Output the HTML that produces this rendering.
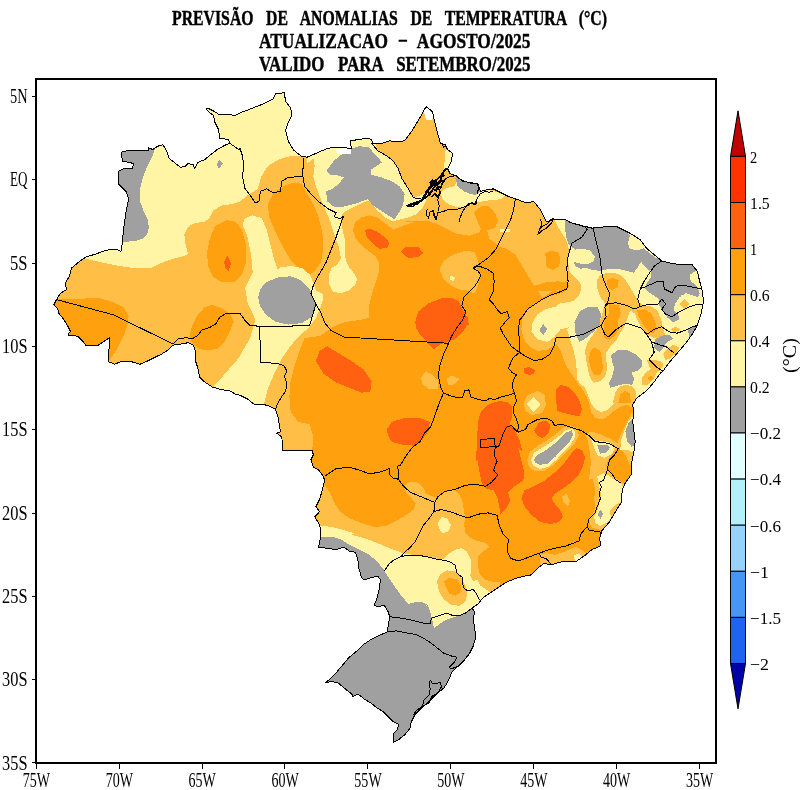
<!DOCTYPE html><html><head><meta charset="utf-8"><title>Previsao de anomalias de temperatura</title><style>
html,body{margin:0;padding:0;background:#fff}
#w{position:relative;width:800px;height:790px;overflow:hidden;background:#fff}
</style></head><body><div id="w">
<svg width="800" height="790" viewBox="0 0 800 790" style="position:absolute;left:0;top:0" shape-rendering="crispEdges">
<defs><clipPath id="br"><path d="M53.9,304.7 L56.5,299.6 L60.3,293.3 L66.6,289.5 L65.3,283.2 L69.1,276.8 L71.6,268.0 L79.2,261.6 L86.8,256.6 L95.7,254.1 L105.8,250.3 L115.9,249.0 L121.0,251.5 L122.3,242.7 L123.5,229.4 L126.1,211.6 L128.6,199.0 L126.1,191.4 L118.5,183.8 L118.5,171.1 L123.5,168.6 L132.4,168.6 L133.7,163.5 L122.3,161.0 L121.5,152.2 L126.1,150.9 L148.9,150.9 L148.9,147.8 L152.7,149.6 L157.7,146.3 L162.8,144.6 L166.6,150.9 L169.1,158.5 L174.2,162.3 L180.5,167.3 L185.6,166.1 L188.1,163.5 L193.2,164.8 L194.4,168.6 L198.2,162.3 L204.6,159.7 L212.2,153.4 L217.2,149.6 L224.8,145.3 L229.9,143.3 L228.6,139.5 L219.7,138.2 L218.5,129.4 L214.7,121.8 L213.4,115.4 L208.4,111.6 L205.8,109.1 L208.4,108.4 L214.7,111.6 L218.5,114.2 L227.3,114.2 L234.9,115.4 L240.0,112.9 L250.1,109.1 L262.8,104.1 L272.9,99.0 L275.4,93.9 L284.3,92.7 L285.6,101.5 L290.6,107.8 L291.9,115.4 L288.1,123.0 L285.6,130.6 L288.1,140.8 L293.2,149.6 L300.8,155.9 L307.1,157.2 L315.9,153.4 L327.3,148.4 L336.2,147.1 L345.1,147.8 L351.4,148.4 L350.1,140.8 L359.0,139.5 L366.6,138.2 L371.6,139.5 L372.9,143.3 L381.8,143.3 L389.4,140.8 L397.0,142.0 L404.6,140.8 L412.2,130.6 L419.7,118.0 L426.1,106.6 L432.4,111.6 L434.9,123.0 L440.0,142.0 L440.0,143.3 L445.1,144.6 L447.6,149.6 L452.7,153.4 L451.4,161.0 L447.6,168.6 L450.1,173.7 L456.5,176.2 L462.8,181.3 L478.0,183.8 L480.5,191.4 L485.6,190.1 L493.2,188.9 L500.8,192.7 L508.4,196.5 L515.9,199.0 L526.1,202.8 L533.7,201.5 L540.0,209.1 L543.8,216.7 L546.3,221.8 L555.2,219.2 L564.1,219.2 L571.6,223.0 L581.8,225.6 L591.9,228.1 L604.6,226.8 L617.2,226.8 L629.9,233.2 L640.0,239.5 L646.6,248.4 L654.2,254.7 L661.8,261.0 L671.9,263.5 L682.0,264.8 L692.2,264.8 L697.2,271.1 L699.7,281.3 L702.3,291.4 L703.5,301.5 L701.0,314.2 L697.2,325.6 L692.2,334.4 L684.6,344.6 L677.0,353.4 L669.4,362.3 L663.0,371.1 L660.5,373.0 L654.2,381.9 L647.8,389.5 L641.5,394.6 L636.5,398.4 L632.7,404.7 L633.9,413.5 L632.7,421.1 L633.9,431.3 L635.2,441.4 L633.9,451.5 L631.4,464.2 L631.4,474.3 L625.1,483.2 L622.3,490.1 L621.0,502.8 L614.7,512.9 L609.6,521.8 L602.0,530.6 L599.5,538.2 L600.8,545.8 L591.9,549.6 L584.3,555.9 L576.7,561.0 L566.6,561.0 L559.0,562.3 L551.4,564.8 L543.8,563.5 L538.7,567.3 L531.1,574.9 L523.5,576.2 L514.7,578.7 L505.8,582.5 L498.2,587.6 L490.6,592.7 L483.0,597.7 L478.0,604.1 L472.0,608.0 L474.6,611.8 L473.3,619.4 L474.6,628.2 L475.8,637.1 L473.3,645.9 L469.5,653.5 L464.4,659.9 L458.1,666.2 L451.8,672.5 L448.0,681.4 L444.2,687.7 L436.6,694.1 L429.0,701.6 L421.4,708.0 L415.1,714.3 L411.3,721.9 L410.0,728.2 L404.9,734.6 L398.6,739.6 L393.5,742.2 L393.5,733.3 L397.3,729.5 L398.6,724.4 L393.5,721.9 L388.5,716.8 L383.4,711.8 L377.1,708.0 L370.8,702.9 L364.4,699.1 L358.1,694.1 L353.0,696.6 L351.8,694.1 L345.4,689.0 L337.8,682.7 L331.5,681.4 L325.2,682.7 L329.0,680.1 L335.3,673.8 L341.6,666.2 L349.2,657.3 L356.8,651.0 L363.2,644.7 L370.8,639.6 L378.4,635.8 L387.2,632.0 L389.7,616.8 L388.1,611.6 L384.3,605.3 L378.0,606.6 L374.2,605.3 L376.7,599.0 L379.2,588.9 L380.5,580.0 L378.0,576.2 L371.6,577.5 L364.1,580.0 L361.5,577.5 L359.0,568.6 L357.7,558.5 L355.2,552.2 L348.9,550.9 L343.8,547.1 L336.2,549.6 L327.3,548.4 L318.5,547.1 L320.5,538.2 L321.0,529.4 L318.5,523.0 L314.7,516.7 L319.7,511.6 L315.9,506.6 L319.7,499.0 L322.3,490.1 L324.8,480.0 L322.3,474.9 L318.5,469.9 L313.4,467.3 L310.9,459.7 L313.4,454.7 L312.2,450.9 L298.2,450.9 L283.0,450.9 L281.8,437.0 L276.7,433.2 L280.5,431.9 L279.2,424.3 L278.0,416.7 L275.4,409.1 L270.4,406.6 L262.8,404.1 L253.9,404.1 L247.6,399.0 L240.0,395.2 L236.2,394.6 L229.9,390.8 L221.0,389.5 L212.2,387.0 L204.6,381.9 L199.5,376.8 L198.2,369.2 L195.7,361.6 L195.7,351.5 L193.2,345.2 L188.1,342.7 L181.8,343.9 L172.9,345.2 L167.8,350.3 L161.5,354.1 L153.9,357.8 L146.3,361.6 L140.0,364.2 L131.1,361.6 L121.0,361.6 L114.7,364.2 L108.4,361.6 L109.6,337.6 L105.8,340.1 L98.2,345.2 L85.6,345.2 L83.0,341.4 L78.0,336.3 L67.8,335.1 L70.4,331.3 L67.8,326.2 L64.1,319.9 L59.0,313.5 L57.7,308.5Z"/></clipPath></defs>
<rect width="800" height="790" fill="#fff"/>
<g clip-path="url(#br)"><path d="M53.9,304.7 L56.5,299.6 L60.3,293.3 L66.6,289.5 L65.3,283.2 L69.1,276.8 L71.6,268.0 L79.2,261.6 L86.8,256.6 L95.7,254.1 L105.8,250.3 L115.9,249.0 L121.0,251.5 L122.3,242.7 L123.5,229.4 L126.1,211.6 L128.6,199.0 L126.1,191.4 L118.5,183.8 L118.5,171.1 L123.5,168.6 L132.4,168.6 L133.7,163.5 L122.3,161.0 L121.5,152.2 L126.1,150.9 L148.9,150.9 L148.9,147.8 L152.7,149.6 L157.7,146.3 L162.8,144.6 L166.6,150.9 L169.1,158.5 L174.2,162.3 L180.5,167.3 L185.6,166.1 L188.1,163.5 L193.2,164.8 L194.4,168.6 L198.2,162.3 L204.6,159.7 L212.2,153.4 L217.2,149.6 L224.8,145.3 L229.9,143.3 L228.6,139.5 L219.7,138.2 L218.5,129.4 L214.7,121.8 L213.4,115.4 L208.4,111.6 L205.8,109.1 L208.4,108.4 L214.7,111.6 L218.5,114.2 L227.3,114.2 L234.9,115.4 L240.0,112.9 L250.1,109.1 L262.8,104.1 L272.9,99.0 L275.4,93.9 L284.3,92.7 L285.6,101.5 L290.6,107.8 L291.9,115.4 L288.1,123.0 L285.6,130.6 L288.1,140.8 L293.2,149.6 L300.8,155.9 L307.1,157.2 L315.9,153.4 L327.3,148.4 L336.2,147.1 L345.1,147.8 L351.4,148.4 L350.1,140.8 L359.0,139.5 L366.6,138.2 L371.6,139.5 L372.9,143.3 L381.8,143.3 L389.4,140.8 L397.0,142.0 L404.6,140.8 L412.2,130.6 L419.7,118.0 L426.1,106.6 L432.4,111.6 L434.9,123.0 L440.0,142.0 L440.0,143.3 L445.1,144.6 L447.6,149.6 L452.7,153.4 L451.4,161.0 L447.6,168.6 L450.1,173.7 L456.5,176.2 L462.8,181.3 L478.0,183.8 L480.5,191.4 L485.6,190.1 L493.2,188.9 L500.8,192.7 L508.4,196.5 L515.9,199.0 L526.1,202.8 L533.7,201.5 L540.0,209.1 L543.8,216.7 L546.3,221.8 L555.2,219.2 L564.1,219.2 L571.6,223.0 L581.8,225.6 L591.9,228.1 L604.6,226.8 L617.2,226.8 L629.9,233.2 L640.0,239.5 L646.6,248.4 L654.2,254.7 L661.8,261.0 L671.9,263.5 L682.0,264.8 L692.2,264.8 L697.2,271.1 L699.7,281.3 L702.3,291.4 L703.5,301.5 L701.0,314.2 L697.2,325.6 L692.2,334.4 L684.6,344.6 L677.0,353.4 L669.4,362.3 L663.0,371.1 L660.5,373.0 L654.2,381.9 L647.8,389.5 L641.5,394.6 L636.5,398.4 L632.7,404.7 L633.9,413.5 L632.7,421.1 L633.9,431.3 L635.2,441.4 L633.9,451.5 L631.4,464.2 L631.4,474.3 L625.1,483.2 L622.3,490.1 L621.0,502.8 L614.7,512.9 L609.6,521.8 L602.0,530.6 L599.5,538.2 L600.8,545.8 L591.9,549.6 L584.3,555.9 L576.7,561.0 L566.6,561.0 L559.0,562.3 L551.4,564.8 L543.8,563.5 L538.7,567.3 L531.1,574.9 L523.5,576.2 L514.7,578.7 L505.8,582.5 L498.2,587.6 L490.6,592.7 L483.0,597.7 L478.0,604.1 L472.0,608.0 L474.6,611.8 L473.3,619.4 L474.6,628.2 L475.8,637.1 L473.3,645.9 L469.5,653.5 L464.4,659.9 L458.1,666.2 L451.8,672.5 L448.0,681.4 L444.2,687.7 L436.6,694.1 L429.0,701.6 L421.4,708.0 L415.1,714.3 L411.3,721.9 L410.0,728.2 L404.9,734.6 L398.6,739.6 L393.5,742.2 L393.5,733.3 L397.3,729.5 L398.6,724.4 L393.5,721.9 L388.5,716.8 L383.4,711.8 L377.1,708.0 L370.8,702.9 L364.4,699.1 L358.1,694.1 L353.0,696.6 L351.8,694.1 L345.4,689.0 L337.8,682.7 L331.5,681.4 L325.2,682.7 L329.0,680.1 L335.3,673.8 L341.6,666.2 L349.2,657.3 L356.8,651.0 L363.2,644.7 L370.8,639.6 L378.4,635.8 L387.2,632.0 L389.7,616.8 L388.1,611.6 L384.3,605.3 L378.0,606.6 L374.2,605.3 L376.7,599.0 L379.2,588.9 L380.5,580.0 L378.0,576.2 L371.6,577.5 L364.1,580.0 L361.5,577.5 L359.0,568.6 L357.7,558.5 L355.2,552.2 L348.9,550.9 L343.8,547.1 L336.2,549.6 L327.3,548.4 L318.5,547.1 L320.5,538.2 L321.0,529.4 L318.5,523.0 L314.7,516.7 L319.7,511.6 L315.9,506.6 L319.7,499.0 L322.3,490.1 L324.8,480.0 L322.3,474.9 L318.5,469.9 L313.4,467.3 L310.9,459.7 L313.4,454.7 L312.2,450.9 L298.2,450.9 L283.0,450.9 L281.8,437.0 L276.7,433.2 L280.5,431.9 L279.2,424.3 L278.0,416.7 L275.4,409.1 L270.4,406.6 L262.8,404.1 L253.9,404.1 L247.6,399.0 L240.0,395.2 L236.2,394.6 L229.9,390.8 L221.0,389.5 L212.2,387.0 L204.6,381.9 L199.5,376.8 L198.2,369.2 L195.7,361.6 L195.7,351.5 L193.2,345.2 L188.1,342.7 L181.8,343.9 L172.9,345.2 L167.8,350.3 L161.5,354.1 L153.9,357.8 L146.3,361.6 L140.0,364.2 L131.1,361.6 L121.0,361.6 L114.7,364.2 L108.4,361.6 L109.6,337.6 L105.8,340.1 L98.2,345.2 L85.6,345.2 L83.0,341.4 L78.0,336.3 L67.8,335.1 L70.4,331.3 L67.8,326.2 L64.1,319.9 L59.0,313.5 L57.7,308.5Z" fill="#ffbe46"/>
<path d="M440.0,221.5 L429.9,221.5 L419.7,220.5 L409.6,223.5 L401.5,226.6 L393.4,229.6 L385.3,223.5 L377.2,217.5 L369.1,215.4 L361.0,217.5 L354.9,222.5 L352.9,230.6 L355.9,238.7 L361.0,244.8 L367.1,249.9 L375.2,255.9 L379.2,263.0 L379.2,271.1 L376.2,281.3 L372.2,293.4 L369.1,305.6 L369.1,317.7 L361.0,319.7 L346.8,321.8 L336.7,324.8 L328.6,329.9 L320.5,335.9 L304.6,338.2 L299.5,350.9 L294.4,366.1 L290.6,381.3 L289.4,396.5 L290.6,411.6 L298.2,421.8 L309.6,424.3 L313.4,437.0 L312.2,450.9 L303.3,457.2 L313.4,482.5 L324.8,485.1 L329.9,492.7 L334.9,504.1 L340.0,511.6 L348.9,518.0 L361.5,523.0 L374.2,526.8 L386.8,526.8 L368.1,525.8 L376.2,526.8 L386.3,525.8 L396.5,520.8 L406.6,514.7 L413.7,509.6 L415.7,503.5 L411.6,498.5 L407.0,493.4 L404.2,488.4 L406.2,483.9 L410.6,481.9 L418.7,482.7 L423.2,487.3 L425.8,493.4 L430.9,496.1 L437.0,497.5 L443.0,492.4 L449.1,490.4 L455.2,490.4 L459.2,494.4 L462.3,500.5 L463.7,508.6 L464.9,516.7 L464.3,524.8 L465.3,532.9 L470.4,538.0 L477.5,541.0 L485.6,543.0 L489.6,547.1 L483.5,551.1 L478.5,556.2 L477.5,565.3 L479.5,573.4 L484.6,579.5 L491.6,581.5 L499.7,582.5 L501.8,591.6 L520.3,585.8 L539.5,569.6 L539.5,554.4 L547.6,553.0 L554.7,555.0 L560.8,553.0 L568.9,549.8 L575.3,546.9 L581.0,549.4 L586.1,553.0 L591.1,551.0 L595.2,548.4 L605.3,549.4 L609.4,529.1 L602.3,530.1 L597.2,529.1 L591.1,527.1 L589.1,521.0 L589.1,517.0 L593.2,512.9 L595.2,506.8 L594.2,498.7 L595.2,490.6 L594.2,484.6 L592.2,478.5 L588.9,480.0 L589.9,471.9 L590.9,461.8 L589.9,451.6 L587.8,441.5 L585.8,434.4 L590.9,431.4 L598.0,433.4 L605.1,436.5 L612.2,439.5 L617.2,443.5 L619.2,438.5 L622.3,431.4 L625.3,425.3 L628.4,419.2 L631.4,413.2 L641.5,411.1 L641.5,405.1 L631.0,407.1 L627.3,405.1 L621.3,406.1 L615.2,410.1 L609.1,415.2 L603.0,419.2 L595.9,418.2 L590.9,412.2 L589.9,405.1 L586.8,397.0 L582.8,389.9 L578.7,384.8 L574.7,378.7 L570.6,372.7 L566.6,366.6 L563.5,358.5 L560.5,350.4 L556.5,344.3 L555.4,344.6 L547.8,349.6 L537.7,350.9 L530.1,347.1 L523.8,339.5 L521.3,329.4 L522.5,319.2 L526.3,311.6 L532.7,305.3 L540.3,300.3 L547.8,296.5 L558.0,294.4 L565.6,291.4 L569.4,286.3 L566.8,282.5 L558.0,281.3 L545.3,282.5 L532.7,286.3 L520.0,291.4 L560.0,290.4 L551.9,291.4 L545.8,295.4 L541.8,297.5 L539.7,293.4 L533.7,285.3 L527.6,275.2 L521.5,265.1 L515.4,254.9 L507.3,248.9 L499.2,246.8 L495.2,242.8 L489.1,238.7 L487.1,230.6 L495.2,227.6 L498.2,220.5 L495.2,213.4 L489.1,206.3 L481.0,206.3 L473.9,212.4 L478.0,222.5 L481.0,229.6 L479.0,232.7 L468.9,235.7 L456.7,233.7 L446.6,228.6 L436.5,223.5 L424.3,220.5 L412.2,220.5 L400.0,222.5ZM267.8,204.1 L272.9,193.9 L283.0,186.3 L293.2,182.5 L302.0,183.8 L305.8,191.4 L313.4,204.1 L318.5,216.7 L322.3,231.9 L323.5,247.1 L321.0,262.3 L313.4,272.4 L308.4,274.9 L300.8,269.9 L290.6,259.7 L283.0,247.1 L275.4,231.9 L269.1,216.7ZM227,220 L215,226 L210,238 L207,252 L208,266 L213,277 L222,282 L234,282 L242,275 L246,262 L246,245 L242,230 L236,222ZM56.5,299.6 L78.0,298.9 L98.2,297.8 L113.4,302.2 L123.5,307.2 L128.6,316.1 L127.3,326.2 L123.5,336.3 L118.5,346.5 L112.2,356.6 L108.4,361.6 L108.4,371.8 L47.6,371.8 L47.6,299.6ZM189.4,336.3 L191.9,326.2 L197.0,316.1 L204.6,307.2 L212.2,304.7 L222.3,308.5 L229.9,313.5 L233.7,321.1 L229.9,331.3 L224.8,341.4 L217.2,349.0 L207.1,350.3 L198.2,349.0 L191.9,342.7ZM607.3,461.3 L610.4,457.2 L613.4,452.2 L618.5,448.1 L621.5,444.1 L621.3,449.6 L625.3,454.7 L628.4,461.8 L631.0,465.8 L641.5,465.8 L641.8,460.3 L641.8,480.5 L623.5,482.9 L617.5,479.5 L612.4,475.4 L608.4,470.4 L606.3,465.3ZM545.3,253.4 L550.4,250.9 L558.0,252.2 L560.5,258.5 L559.2,266.1 L552.9,269.9 L546.6,267.3Z" fill="#ffa00f"/>
<path d="M227.3,255.9 L231.1,263.5 L228.6,271.1 L224.8,267.3 L224.3,261.0ZM315.9,361.0 L319.7,350.9 L327.3,346.3 L338.7,353.4 L351.4,361.0 L364.1,369.9 L371.6,381.3 L370.4,391.4 L361.5,392.7 L348.9,387.6 L336.2,382.5 L323.5,373.7ZM386.8,429.4 L391.9,421.8 L404.6,418.0 L419.7,418.0 L429.9,421.8 L428.6,430.6 L422.3,439.5 L414.7,445.8 L402.0,444.6 L391.9,442.0 L388.1,435.7ZM401.0,251.9 L406.1,246.8 L418.2,246.8 L423.3,252.9 L418.2,257.0 L408.1,258.0ZM365.1,230.6 L369.1,228.6 L377.2,231.6 L385.3,237.7 L389.4,242.8 L387.3,247.8 L379.2,248.9 L373.2,243.8 L367.1,237.7ZM415.2,321.8 L418.2,311.6 L428.4,303.5 L440.5,298.5 L450.6,297.5 L458.7,301.5 L462.8,309.6 L467.8,317.7 L468.9,325.8 L467.8,324.1 L462.8,332.2 L454.7,339.2 L446.6,342.3 L440.5,344.3 L433.4,349.4 L427.3,343.3 L426.3,340.3 L420.3,335.2 L416.2,328.1ZM478.0,421.3 L481.0,411.1 L489.1,404.1 L499.2,401.0 L507.3,402.0 L512.4,407.1 L512.4,417.2 L509.4,423.3 L514.4,429.4 L519.5,439.5 L522.5,451.6 L518.2,448.1 L521.3,460.3 L524.3,472.4 L523.3,480.5 L514.2,486.6 L508.1,492.7 L510.1,500.8 L506.1,508.9 L500.0,514.9 L499.7,508.6 L497.7,498.5 L493.7,490.4 L485.6,488.4 L481.5,482.3 L479.5,472.2 L477.5,460.0 L475.9,461.8 L477.0,441.5ZM523.5,370.6 L526.6,367.6 L534.7,369.6 L533.7,373.7 L525.6,374.3ZM556.5,388.9 L560.5,384.8 L568.6,386.8 L574.7,392.9 L579.7,401.0 L581.8,409.1 L579.7,416.2 L572.7,415.2 L564.6,413.2 L557.5,411.1 L556.1,401.0ZM534.2,430.4 L539.2,422.3 L546.3,420.3 L550.4,425.3 L548.4,433.4 L542.3,438.5 L537.2,435.4ZM521.3,498.7 L524.3,490.6 L534.4,485.6 L544.6,480.5 L554.7,472.4 L564.8,462.3 L570.9,454.2 L575.9,448.1 L582.0,450.1 L585.1,457.2 L583.0,466.3 L579.0,474.4 L570.9,482.5 L562.8,488.6 L554.7,493.7 L551.6,498.7 L555.7,504.8 L560.8,510.9 L562.8,517.0 L558.7,522.0 L550.6,524.1 L540.5,522.0 L532.4,515.9 L525.3,507.8ZM523.8,368.6 L528.9,366.8 L535.7,371.1 L530.1,374.9 L524.6,373.7Z" fill="#ff6110"/>
<path d="M439.5,269.1 L443.5,261.0 L452.7,254.9 L464.8,250.9 L474.9,251.9 L478.0,261.0 L477.0,269.1 L480.0,275.2 L478.0,285.3 L474.9,293.4 L466.8,290.4 L458.7,289.4 L450.6,285.3 L443.5,279.2ZM421.0,377.5 L426.1,371.1 L432.4,374.9 L438.7,381.3 L437.5,388.9 L428.6,388.9 L422.3,383.8ZM446.6,378.7 L451.6,375.7 L459.7,378.7 L454.7,383.8 L448.6,385.8ZM523.5,403.0 L527.6,394.9 L537.7,390.9 L544.8,394.9 L545.8,405.1 L541.8,413.2 L531.6,415.2 L525.6,411.1ZM527.1,459.7 L530.1,451.6 L538.2,445.6 L548.4,439.5 L556.5,433.4 L563.5,427.3 L570.6,425.3 L577.7,428.4 L578.7,435.4 L574.7,443.5 L568.6,449.6 L560.5,457.7 L552.4,465.8 L544.3,470.9 L534.2,470.9 L529.1,466.8ZM561.8,496.7 L566.8,493.7 L569.9,500.8 L567.8,506.8 L563.8,502.8Z" fill="#ffbe46"/>
<path d="M444.6,151.3 L448.4,149.7 L454.4,154.3 L452.9,162.7 L447.6,168.7 L443.8,171.0 L444.6,160.4ZM86.8,259.1 L98.2,261.6 L115.9,265.4 L133.7,268.0 L151.4,268.0 L161.5,262.9 L171.6,259.1 L181.8,256.6 L188.1,254.1 L185.6,244.6 L184.3,234.4 L188.1,226.8 L194.4,223.0 L204.6,221.8 L209.6,218.0 L213.4,210.4 L222.3,205.3 L232.4,204.1 L240.0,201.5 L247.6,195.2 L257.7,188.9 L261.5,176.2 L267.8,166.1 L278.0,159.7 L290.6,155.9 L303.3,155.9 L305.8,80.0 L40,80 L40,262ZM245.1,218.0 L252.7,215.4 L261.5,218.0 L266.6,229.4 L270.4,244.6 L274.2,259.7 L278.0,269.9 L280.0,267.1 L292.2,266.1 L302.3,268.1 L309.4,274.2 L313.4,282.3 L316.1,290.4 L323.5,294.4 L322.5,301.5 L320.9,305.6 L316.1,317.9 L308.4,328.1 L299.5,335.7 L290.6,345.8 L281.8,358.5 L274.2,373.7 L267.8,388.9 L264.1,404.1 L262.8,411.6 L212.2,397.1 L214.7,384.4 L222.3,376.8 L229.9,368.0 L240.0,356.6 L242.5,350.9 L250.1,338.2 L255.2,320.5 L252.7,312.9 L247.6,302.8 L245.1,287.6 L252.7,272.4 L251.4,257.2 L247.6,237.0 L242.5,224.3ZM307.1,163.5 L306.3,150.9 L353.9,134.4 L372.9,137.0 L378.0,150.9 L386.8,155.9 L393.2,161.0 L398.2,168.6 L402.0,178.7 L408.4,188.9 L414.7,197.7 L427.3,192.2 L426.3,200.3 L422.3,208.4 L416.2,214.4 L408.1,217.5 L400.0,219.5 L392.4,221.5 L385.3,217.5 L377.2,210.4 L369.1,200.3 L361.0,203.3 L346.8,210.4 L341.8,214.4 L340.8,220.5 L342.8,230.6 L345.2,240.8 L344.8,250.9 L345.8,261.0 L348.9,267.1 L353.9,273.2 L357.0,279.2 L354.9,285.3 L348.9,290.4 L340.8,293.4 L332.7,291.4 L329.6,285.3 L328.6,275.2 L331.6,268.1 L337.7,264.1 L340.8,258.0 L338.7,246.8 L333.7,232.7 L330.6,222.5 L325.6,210.4 L320.5,198.2 L315.9,186.3 L313.4,176.2 L314.7,166.1 L313.4,158.5ZM440.5,192.2 L446.6,188.1 L454.7,186.1 L456.7,182.0 L485.1,188.1 L505.3,195.2 L501.3,199.2 L489.1,200.3 L477.0,202.3 L466.8,206.3 L456.7,207.3 L448.6,204.3 L442.5,199.2ZM554.3,216.6 L555.5,222.3 L560.0,230.4 L566.5,240.5 L569.1,250.6 L568.1,260.8 L569.1,270.9 L574.2,277.0 L580.3,283.0 L581.3,289.1 L579.2,295.2 L574.2,300.3 L568.1,302.3 L560.0,303.3 L555.4,306.6 L545.3,309.1 L537.7,314.2 L532.7,321.8 L531.4,331.9 L537.7,339.5 L547.8,342.0 L554.2,337.0 L560.5,329.4 L570.6,326.8 L567.0,328.9 L570.0,339.2 L573.1,348.4 L575.5,358.9 L576.9,371.0 L576.7,378.7 L580.8,384.4 L585.2,387.8 L587.8,394.9 L590.9,403.0 L594.9,409.1 L601.0,412.2 L607.1,410.1 L612.2,405.1 L617.2,401.0 L623.3,399.0 L629.4,399.0 L641.5,401.0 L720,380 L720,200 L600,200ZM351.9,534.9 L360.0,537.0 L372.2,541.0 L384.3,546.1 L394.4,550.1 L403.5,553.2 L412.7,554.8 L424.8,555.6 L434.9,558.2 L443.0,559.2 L448.1,554.2 L454.2,550.1 L461.3,548.1 L466.3,551.1 L470.4,558.2 L471.4,567.3 L470.4,575.4 L473.4,581.5 L477.5,579.5 L480.5,585.6 L489.6,591.6 L489.6,622.0 L310.9,657.2 L310.9,524.3 L319.7,525.6 L331.1,526.8 L341.3,529.4 L353.9,533.2ZM449.6,275.2 L454.7,277.2 L454.3,280.7 L450.2,280.3ZM500.3,228.6 L510.4,228.6 L510.4,231.6 L500.3,231.6ZM526.6,404.1 L533.7,397.0 L540.8,404.1 L533.7,412.2ZM438.0,522.8 L442.0,516.7 L447.1,518.7 L450.7,524.8 L449.1,530.9 L443.0,533.3 L439.0,528.9ZM573.9,555.4 L579.0,553.4 L583.0,557.5 L582.0,561.9 L574.9,561.5ZM597.2,476.5 L603.3,473.4 L608.4,475.4 L613.4,478.5 L621.5,483.5 L625.6,492.7 L623.5,504.8 L615.4,510.9 L611.4,518.0 L606.3,523.0 L600.3,526.1 L595.2,523.0 L594.2,517.0 L597.2,510.9 L599.2,502.8 L601.3,494.7 L599.2,486.6 L598.2,480.5ZM531.1,459.7 L534.2,452.7 L542.3,447.6 L550.4,442.5 L558.5,436.5 L565.6,430.4 L571.6,428.4 L575.1,431.4 L574.7,437.5 L570.6,444.6 L563.5,451.6 L556.5,459.7 L548.4,466.8 L540.3,468.9 L533.2,465.8ZM590.9,438.5 L597.0,440.5 L609.1,442.5 L615.2,446.6 L612.2,453.7 L605.1,457.7 L598.0,455.7 L593.9,447.6ZM620.3,449.6 L621.3,439.5 L624.3,430.4 L627.3,423.3 L631.4,417.2 L641.5,417.2 L641.5,451.6 L631.4,451.6 L627.3,449.6Z" fill="#fff5a5"/>
<path d="M596.5,281.0 L600.5,274.9 L608.6,272.5 L618.7,273.9 L624.8,279.0 L629.9,287.1 L634.9,295.2 L639.0,302.3 L645.1,306.3 L651.1,306.3 L657.2,310.4 L661.3,319.5 L663.3,329.6 L665.3,335.7 L659.2,339.7 L653.2,337.7 L647.1,334.7 L642.0,328.6 L638.0,321.5 L634.9,313.4 L629.9,310.4 L627.8,317.5 L624.8,325.6 L620.8,331.6 L616.7,339.7 L610.6,345.8 L605.6,353.9 L607.1,366.6 L606.1,374.7 L601.0,380.8 L593.9,382.8 L589.9,377.7 L587.8,368.6 L585.8,358.5 L585.2,350.4 L587.8,342.3 L592.4,335.7 L597.5,327.6 L600.5,319.5 L603.5,309.4 L605.0,303.3 L600.5,297.2 L597.5,289.1ZM647.1,360.5 L653.2,359.8 L660.8,361.3 L663.8,365.1 L659.2,371.1 L653.2,372.7 L649.4,366.6ZM612.9,403.0 L615.2,392.4 L619.7,386.3 L625.8,384.8 L631.9,386.3 L635.7,390.9 L636.5,397.0 L635.7,403.0ZM684.6,299.2 L689.6,304.3 L684.6,309.4 L679.5,304.3ZM670.4,329.6 L675.4,326.6 L680.5,329.6 L675.4,332.7ZM663.3,353.9 L668.4,347.8 L673.4,344.8 L679.5,347.8 L675.4,353.9 L669.4,359.0 L665.3,360.0ZM641.5,378.7 L645.6,372.7 L651.6,368.6 L657.7,370.6 L653.7,378.7 L647.6,384.8 L641.5,384.8ZM609.4,510.9 L615.4,504.8 L623.5,500.8 L621.5,508.9 L615.4,512.9 L611.4,518.0ZM437.0,581.5 L440.0,574.4 L447.1,570.4 L455.2,571.4 L461.3,577.5 L465.3,585.6 L467.3,593.7 L465.3,601.8 L459.2,605.8 L451.1,604.8 L444.1,599.7 L439.0,591.6Z" fill="#ffbe46"/>
<path d="M606.6,280.0 L612.7,278.0 L618.7,280.0 L617.7,287.1 L611.6,290.1 L607.6,287.1ZM608.6,304.3 L618.7,305.3 L620.8,313.4 L617.7,321.5 L618.7,329.6 L614.7,335.7 L609.6,339.7 L603.5,337.7 L603.5,329.6 L604.6,321.5 L608.6,313.4ZM589.9,352.4 L593.9,347.3 L600.0,350.4 L602.0,358.5 L603.0,368.6 L600.0,374.7 L593.9,374.7 L590.9,368.6 L588.9,360.5ZM637.0,310.4 L645.1,309.4 L651.1,313.4 L655.2,321.5 L657.2,329.6 L653.2,333.7 L647.1,329.6 L642.0,323.5 L639.0,317.5ZM647.6,377.7 L651.6,375.7 L653.7,378.7 L649.6,380.8ZM618.2,403.0 L620.5,393.9 L625.1,390.9 L629.6,393.2 L631.1,403.0ZM444.1,581.5 L449.1,577.5 L457.2,579.5 L461.3,586.6 L460.3,592.7 L455.2,595.7 L449.1,593.7 L446.1,587.6Z" fill="#ffa00f"/>
<path d="M155.2,148.4 L151.4,158.5 L146.3,168.6 L142.5,178.7 L140.0,188.9 L140.0,201.5 L143.8,211.6 L147.6,219.2 L148.9,226.8 L147.6,233.2 L143.8,238.2 L136.2,240.8 L123.5,242.0 L113.4,243.3 L113.4,145.8ZM219.2,159.7 L222.8,163.5 L219.2,168.6 L216.5,164.8ZM258.2,297.7 L260.3,288.9 L266.6,282.0 L278.0,277.5 L290.6,276.2 L300.8,280.0 L309.6,288.9 L315.2,304.1 L312.2,316.7 L302.0,323.0 L288.1,324.6 L275.4,321.8 L265.3,314.2 L259.7,305.3ZM326.1,171.1 L333.7,161.0 L341.3,154.7 L351.4,148.4 L359.0,146.3 L369.1,147.1 L372.9,152.2 L378.0,157.2 L381.8,162.3 L376.7,166.1 L370.4,169.9 L371.6,174.9 L381.8,177.5 L391.9,181.3 L399.5,186.3 L404.6,193.9 L403.3,204.1 L399.5,211.6 L394.4,219.2 L388.1,215.4 L380.5,210.4 L372.9,205.3 L367.8,199.0 L361.5,201.5 L353.9,204.1 L343.8,206.6 L333.7,206.6 L327.3,201.5 L326.1,191.4 L332.4,188.9 L338.7,183.8 L343.8,177.5 L336.2,174.9 L329.9,174.9ZM310.9,537.0 L320.5,537.0 L333.7,537.0 L341.3,539.5 L348.9,544.6 L359.0,549.6 L369.1,554.7 L376.7,561.0 L383.0,568.6 L389.4,578.7 L394.4,586.3 L402.0,596.5 L408.4,604.1 L417.2,601.5 L424.8,602.8 L428.6,610.4 L425.2,601.6 L429.0,608.0 L431.5,616.8 L434.1,628.2 L439.1,624.4 L446.7,619.4 L455.6,616.8 L464.4,613.0 L472.0,608.0 L487.2,605.4 L520,640 L520,770 L300,770 L300,600ZM455.2,178.2 L478.0,183.3 L480.5,191.4 L475.4,195.2 L470.4,193.9 L464.1,191.4 L457.7,186.3ZM565.1,220.3 L572.2,222.3 L580.3,224.3 L587.3,226.3 L596.5,226.3 L606.6,225.3 L616.7,226.3 L624.8,230.4 L629.9,235.4 L627.8,243.5 L629.9,248.6 L635.9,250.6 L643.0,247.6 L649.1,252.7 L655.2,257.7 L661.3,259.7 L673.4,262.8 L685.6,263.8 L693.7,264.8 L695.7,270.9 L689.6,274.9 L690.6,281.0 L697.7,287.1 L699.7,293.2 L697.7,297.2 L691.6,295.2 L685.6,293.2 L679.5,297.2 L675.4,303.3 L673.4,310.4 L677.5,313.4 L679.5,319.5 L673.4,322.5 L667.3,317.5 L663.3,311.4 L659.2,305.3 L659.2,299.2 L653.2,295.2 L647.1,291.1 L644.1,288.1 L647.1,283.0 L651.1,277.0 L651.1,269.9 L649.1,270.9 L645.1,266.8 L641.0,261.8 L638.0,266.8 L633.9,272.9 L626.8,270.9 L618.7,268.9 L610.6,268.9 L603.5,269.9 L600.5,270.9 L592.4,269.9 L586.3,267.8 L580.3,268.9 L575.2,265.8 L573.2,261.8 L578.2,263.2 L586.3,264.4 L593.4,261.8 L594.8,256.7 L590.4,250.6 L582.3,248.6 L575.2,249.6 L572.2,247.6 L568.1,243.5 L566.1,236.5 L565.1,228.4ZM574.4,321.8 L579.5,311.6 L588.4,306.6 L597.2,306.6 L601.0,314.2 L599.7,324.3 L593.4,331.9 L585.8,338.2 L579.5,342.0 L575.7,334.4ZM655.2,339.7 L661.3,335.7 L669.4,334.7 L673.4,338.7 L667.3,341.8 L663.3,347.8 L659.2,351.9 L654.2,347.8ZM687.6,329.6 L693.7,326.6 L697.7,328.6 L694.7,334.7 L689.6,337.7ZM611.1,355.4 L617.2,350.4 L627.3,350.4 L635.4,354.4 L641.5,359.5 L642.5,366.6 L637.5,370.6 L631.4,372.7 L634.4,378.7 L632.4,384.8 L625.3,383.8 L617.2,385.8 L610.1,387.8 L609.1,382.8 L612.2,376.7 L614.2,368.6 L612.2,362.5ZM543.3,324.1 L547.3,329.1 L543.3,335.2 L539.2,330.1ZM625.3,431.4 L628.4,423.3 L632.4,419.2 L641.5,421.3 L641.5,441.5 L631.4,446.6 L627.3,441.5ZM534.2,459.7 L537.2,454.7 L545.3,450.6 L553.4,444.6 L560.5,438.5 L566.6,432.4 L571.6,430.4 L573.1,434.4 L569.6,441.5 L562.5,448.6 L555.4,456.7 L547.3,463.8 L539.2,464.8 L535.2,462.8ZM597.0,444.6 L607.1,444.6 L610.1,447.6 L606.1,452.7 L600.0,453.7ZM600.3,509.9 L603.3,513.9 L600.7,519.0 L597.6,514.5Z" fill="#a0a0a0"/>
<path d="M627.8,243.5 L629.9,237.5 L637.0,239.5 L642.0,243.5 L643.0,248.6 L635.9,250.6 L629.9,248.6ZM677.5,301.3 L681.5,295.2 L689.6,294.2 L697.7,297.2 L701.8,301.3 L699.7,307.3 L693.7,311.4 L685.6,313.4 L679.5,310.4Z" fill="#fff5a5"/>
<path d="M684.6,299.2 L689.6,304.3 L684.6,309.4 L679.5,304.3Z" fill="#ffbe46"/>
<path d="M335.7,148.9 L351.4,147.8 L350.9,153.9 L337.5,153.9ZM423.5,110.4 L427.3,105.3 L433.7,110.4 L434.4,119.2 L426.1,120.5Z" fill="#ffffff"/>
</g>
<g fill="none" stroke="#000" stroke-width="1" stroke-linejoin="round" shape-rendering="crispEdges">
<path d="M53.9,304.7 L56.5,299.6 L60.3,293.3 L66.6,289.5 L65.3,283.2 L69.1,276.8 L71.6,268.0 L79.2,261.6 L86.8,256.6 L95.7,254.1 L105.8,250.3 L115.9,249.0 L121.0,251.5 L122.3,242.7 L123.5,229.4 L126.1,211.6 L128.6,199.0 L126.1,191.4 L118.5,183.8 L118.5,171.1 L123.5,168.6 L132.4,168.6 L133.7,163.5 L122.3,161.0 L121.5,152.2 L126.1,150.9 L148.9,150.9 L148.9,147.8 L152.7,149.6 L157.7,146.3 L162.8,144.6 L166.6,150.9 L169.1,158.5 L174.2,162.3 L180.5,167.3 L185.6,166.1 L188.1,163.5 L193.2,164.8 L194.4,168.6 L198.2,162.3 L204.6,159.7 L212.2,153.4 L217.2,149.6 L224.8,145.3 L229.9,143.3 L228.6,139.5 L219.7,138.2 L218.5,129.4 L214.7,121.8 L213.4,115.4 L208.4,111.6 L205.8,109.1 L208.4,108.4 L214.7,111.6 L218.5,114.2 L227.3,114.2 L234.9,115.4 L240.0,112.9 L250.1,109.1 L262.8,104.1 L272.9,99.0 L275.4,93.9 L284.3,92.7 L285.6,101.5 L290.6,107.8 L291.9,115.4 L288.1,123.0 L285.6,130.6 L288.1,140.8 L293.2,149.6 L300.8,155.9 L307.1,157.2 L315.9,153.4 L327.3,148.4 L336.2,147.1 L345.1,147.8 L351.4,148.4 L350.1,140.8 L359.0,139.5 L366.6,138.2 L371.6,139.5 L372.9,143.3 L381.8,143.3 L389.4,140.8 L397.0,142.0 L404.6,140.8 L412.2,130.6 L419.7,118.0 L426.1,106.6 L432.4,111.6 L434.9,123.0 L440.0,142.0 L440.0,143.3 L445.1,144.6 L447.6,149.6 L452.7,153.4 L451.4,161.0 L447.6,168.6 L450.1,173.7 L456.5,176.2 L462.8,181.3 L478.0,183.8 L480.5,191.4 L485.6,190.1 L493.2,188.9 L500.8,192.7 L508.4,196.5 L515.9,199.0 L526.1,202.8 L533.7,201.5 L540.0,209.1 L543.8,216.7 L546.3,221.8 L555.2,219.2 L564.1,219.2 L571.6,223.0 L581.8,225.6 L591.9,228.1 L604.6,226.8 L617.2,226.8 L629.9,233.2 L640.0,239.5 L646.6,248.4 L654.2,254.7 L661.8,261.0 L671.9,263.5 L682.0,264.8 L692.2,264.8 L697.2,271.1 L699.7,281.3 L702.3,291.4 L703.5,301.5 L701.0,314.2 L697.2,325.6 L692.2,334.4 L684.6,344.6 L677.0,353.4 L669.4,362.3 L663.0,371.1 L660.5,373.0 L654.2,381.9 L647.8,389.5 L641.5,394.6 L636.5,398.4 L632.7,404.7 L633.9,413.5 L632.7,421.1 L633.9,431.3 L635.2,441.4 L633.9,451.5 L631.4,464.2 L631.4,474.3 L625.1,483.2 L622.3,490.1 L621.0,502.8 L614.7,512.9 L609.6,521.8 L602.0,530.6 L599.5,538.2 L600.8,545.8 L591.9,549.6 L584.3,555.9 L576.7,561.0 L566.6,561.0 L559.0,562.3 L551.4,564.8 L543.8,563.5 L538.7,567.3 L531.1,574.9 L523.5,576.2 L514.7,578.7 L505.8,582.5 L498.2,587.6 L490.6,592.7 L483.0,597.7 L478.0,604.1 L472.0,608.0 L474.6,611.8 L473.3,619.4 L474.6,628.2 L475.8,637.1 L473.3,645.9 L469.5,653.5 L464.4,659.9 L458.1,666.2 L451.8,672.5 L448.0,681.4 L444.2,687.7 L436.6,694.1 L429.0,701.6 L421.4,708.0 L415.1,714.3 L411.3,721.9 L410.0,728.2 L404.9,734.6 L398.6,739.6 L393.5,742.2 L393.5,733.3 L397.3,729.5 L398.6,724.4 L393.5,721.9 L388.5,716.8 L383.4,711.8 L377.1,708.0 L370.8,702.9 L364.4,699.1 L358.1,694.1 L353.0,696.6 L351.8,694.1 L345.4,689.0 L337.8,682.7 L331.5,681.4 L325.2,682.7 L329.0,680.1 L335.3,673.8 L341.6,666.2 L349.2,657.3 L356.8,651.0 L363.2,644.7 L370.8,639.6 L378.4,635.8 L387.2,632.0 L389.7,616.8 L388.1,611.6 L384.3,605.3 L378.0,606.6 L374.2,605.3 L376.7,599.0 L379.2,588.9 L380.5,580.0 L378.0,576.2 L371.6,577.5 L364.1,580.0 L361.5,577.5 L359.0,568.6 L357.7,558.5 L355.2,552.2 L348.9,550.9 L343.8,547.1 L336.2,549.6 L327.3,548.4 L318.5,547.1 L320.5,538.2 L321.0,529.4 L318.5,523.0 L314.7,516.7 L319.7,511.6 L315.9,506.6 L319.7,499.0 L322.3,490.1 L324.8,480.0 L322.3,474.9 L318.5,469.9 L313.4,467.3 L310.9,459.7 L313.4,454.7 L312.2,450.9 L298.2,450.9 L283.0,450.9 L281.8,437.0 L276.7,433.2 L280.5,431.9 L279.2,424.3 L278.0,416.7 L275.4,409.1 L270.4,406.6 L262.8,404.1 L253.9,404.1 L247.6,399.0 L240.0,395.2 L236.2,394.6 L229.9,390.8 L221.0,389.5 L212.2,387.0 L204.6,381.9 L199.5,376.8 L198.2,369.2 L195.7,361.6 L195.7,351.5 L193.2,345.2 L188.1,342.7 L181.8,343.9 L172.9,345.2 L167.8,350.3 L161.5,354.1 L153.9,357.8 L146.3,361.6 L140.0,364.2 L131.1,361.6 L121.0,361.6 L114.7,364.2 L108.4,361.6 L109.6,337.6 L105.8,340.1 L98.2,345.2 L85.6,345.2 L83.0,341.4 L78.0,336.3 L67.8,335.1 L70.4,331.3 L67.8,326.2 L64.1,319.9 L59.0,313.5 L57.7,308.5Z" stroke-width="1"/>
<path d="M229.9,143.3 L238.7,149.6 L240.0,148.4 L242.5,155.9 L243.8,166.1 L242.5,176.2 L245.1,188.9 L250.1,195.2 L255.2,202.8 L259.0,201.5 L260.3,191.4 L266.6,188.9 L272.9,192.7 L280.5,191.4 L281.8,181.3 L288.1,177.5 L302.8,176.2 L303.3,158.5M302.8,176.2 L304.6,186.3 L310.9,193.9 L318.5,201.5 L328.6,209.1 L336.2,212.9 L334.2,216.7 L340.0,218.7 L343.8,216.2 L341.3,221.8 L336.2,237.0 L326.1,262.3 L315.9,280.0 L313.4,285.1 L310.9,293.9 L315.9,304.1 L309.6,325.6M371.6,143.3 L378.0,150.9 L386.8,155.9 L393.2,161.0 L398.2,168.6 L402.0,178.7 L408.4,188.9 L413.4,197.7 L421.0,199.0M56.5,299.6 L113.4,314.8 L172.9,343.9M172.9,343.9 L178.0,338.9 L186.8,337.6 L191.9,338.9 L198.2,335.1 L202.0,330.0 L209.6,327.5 L215.9,323.7 L219.7,317.3 L226.1,313.5 L240.0,313.5 L245.1,320.5 L250.1,325.6 L255.2,325.6 L259.0,326.8M259.0,326.8 L260.3,343.3 L260.3,362.3 L278.0,363.5 L284.3,366.1 L286.8,371.1 L284.3,376.2 L286.8,383.8 L285.6,391.4 L281.8,396.5 L278.0,402.8 L275.4,409.1M259.0,326.8 L309.6,325.6M315.9,304.1 L321.0,312.9 L324.8,323.0 L331.1,330.6 L343.8,337.0 L448.6,343.3M324.8,476.2 L336.2,468.6 L348.9,467.3 L359.0,469.9 L369.1,473.7 L379.2,472.4 L389.4,468.6 L390.0,475.2 L393.4,478.2 L398.5,479.2M443.5,392.9 L438.5,405.1 L434.4,417.2 L430.4,427.3 L424.3,433.4 L420.3,441.5 L412.2,447.6 L406.1,455.7 L400.0,465.8 L397.5,466.1 L398.5,472.2 L398.5,479.2M398.5,479.2 L403.5,486.3 L410.6,492.4 L422.8,497.5 L434.9,502.5 L433.9,511.6 L428.9,518.7 L423.8,524.8 L419.7,532.9 L415.7,541.0 L409.6,548.1 L403.5,553.2 L401.5,556.2 L394.4,559.7 L389.4,563.5 L384.3,571.1M434.9,502.5 L438.0,496.5 L445.1,491.4 L455.2,489.4 L465.3,485.3 L475.4,484.3 L485.6,486.3 L491.6,482.3 L497.7,475.2 L493.7,470.1 L495.7,464.1 L497.2,461.8 L494.2,455.7 L495.2,447.6M480.0,439.5 L494.2,438.5 L495.2,446.6 L481.0,447.6 L480.0,439.5M495.2,447.6 L499.2,445.6 L501.3,439.5 L503.3,433.4 L506.3,427.3 L511.4,425.3 L517.5,432.4M433.9,511.6 L441.0,509.6 L450.1,511.6 L460.3,515.4 L467.8,518.0 L478.0,514.2 L488.1,512.9 L497.0,515.4 L499.5,525.6 L503.3,534.4 L508.4,539.5 L507.1,550.9 L510.9,558.5 L518.5,561.0 L528.6,557.2 L538.7,553.4 L548.9,549.6 L566.6,545.8 L579.2,540.8 L580.5,534.4 L586.8,526.8M538.7,553.4 L541.3,557.2 L546.3,558.5 L551.4,564.8M587.1,526.1 L589.1,530.1 L601.3,532.2M607.3,470.4 L603.3,480.5 L599.2,482.5 L601.3,486.6 L599.2,493.7 L600.3,498.7 L597.2,506.8 L595.2,512.9 L589.1,519.0 L587.1,526.1M401.5,556.2 L412.7,555.2 L424.8,556.2 L437.0,559.2 L449.1,561.3 L455.2,565.3 L457.2,573.4 L462.3,577.5 L463.3,587.6 L467.3,590.6 L473.4,589.6 L476.5,593.7 L479.5,599.7M389.7,616.8 L401.1,618.1 L413.8,620.6 L423.9,623.2 L430.3,623.2 L431.5,618.1 L439.1,615.6 L446.7,613.0 L451.8,615.1 L459.4,615.6 L465.7,613.0 L472.0,608.0M387.2,632.0 L396.1,630.8 L406.2,632.8 L416.3,634.6 L423.9,638.4 L431.5,643.4 L437.8,648.5 L444.2,653.5 L451.8,656.1 L456.8,657.3 L454.3,662.4 L449.2,667.5 L451.8,668.7 L458.1,666.2M430.3,680.1 L432.8,683.9 L440.4,682.7 L441.6,686.5 L437.8,692.8 L431.5,696.6 L429.0,702.9 L421.4,706.7 L415.1,711.8 L413.8,714.3 L418.9,710.5 L422.7,705.4 L423.9,700.4 L429.0,695.3 L430.3,689.0 L429.0,683.9 L430.3,680.1M515.4,199.2 L513.4,210.4 L510.4,220.5 L505.3,230.6 L500.3,240.8 L496.2,248.9 L489.1,257.0 L481.0,263.0 L472.9,268.1M472.9,268.1 L478.0,271.1 L481.0,275.2 L478.0,281.3 L473.9,287.3 L468.9,292.4 L463.8,297.5 L461.8,305.6 L465.8,311.6 L462.8,319.7 L456.7,328.1 L451.6,336.2 L448.6,343.3 L443.5,354.4 L439.5,366.6 L438.5,376.7 L440.5,386.8 L443.5,392.9M472.9,268.1 L479.0,266.1 L487.1,269.1 L493.2,273.2 L494.2,281.3 L493.2,291.4 L489.1,299.5 L493.2,303.5 L497.2,309.6 L501.3,313.7 L507.3,311.6 L509.4,317.7 L505.3,321.8 L500.3,328.1 L503.3,334.2 L507.3,340.3 L511.4,346.3 L519.5,352.4M443.5,392.9 L450.6,395.9 L458.7,398.0 L462.8,397.0 L464.8,390.9 L468.9,389.9 L470.9,397.0 L477.0,399.0 L485.1,401.0 L490.1,398.0 L493.2,400.0 L501.3,397.0 L509.4,394.9 L514.4,392.9M519.5,352.4 L513.4,357.5 L510.4,363.5 L508.4,368.6 L512.4,372.7 L516.5,374.7 L513.4,379.7 L512.4,386.8 L514.4,392.9 L516.5,401.0 L513.4,407.1 L513.4,413.2 L516.5,419.2 L518.5,425.3 L517.5,432.4M517.5,432.4 L525.6,429.4 L528.1,424.3 L538.2,419.2 L546.3,418.2 L552.4,421.3 L554.4,425.3 L562.5,424.3 L570.6,427.3 L580.8,430.4 L588.9,435.4 L594.9,441.5 L609.1,443.5 L618.2,448.6 L614.4,455.2 L609.4,460.3 L607.3,469.4 L612.4,474.4 L615.4,479.5 L621.5,483.5M519.5,352.4 L519.5,342.3 L518.5,330.1 L519.5,320.0 L522.5,316.7 L527.6,309.1 L535.2,304.1 L542.8,299.0 L550.4,295.2 L558.0,292.7 L566.8,288.9 L568.1,281.3 L566.8,268.6 L568.1,255.9 L571.9,243.3 L582.0,237.0 L587.1,229.4 L584.6,226.8 L580.8,225.6M519.5,352.4 L525.6,356.5 L533.7,360.5 L541.8,359.5 L549.9,354.4 L553.9,346.3 L555.9,338.2 L558.0,337.0 L570.6,337.0 L583.3,334.4 L593.4,329.4 L601.0,325.6 L604.8,334.4 L608.6,337.0 L616.2,329.4 L626.3,323.0 L633.9,325.6 L641.5,328.1 L646.6,334.4M601.0,325.6 L606.1,316.7 L604.8,306.6M593.4,228.1 L594.7,235.7 L597.2,245.8 L599.7,255.9 L601.0,266.1 L602.3,276.2 L606.1,286.3 L609.9,293.9 L607.3,304.1 L604.8,306.6M604.8,304.1 L616.2,302.8 L626.3,305.3 L633.9,309.1 L640.3,306.6 L637.7,299.0 L640.3,288.9 L644.1,281.3 L649.1,273.7 L654.2,266.1 L661.8,261.0M640.3,288.9 L649.1,285.1 L658.0,281.3 L663.0,281.3 L664.3,288.9 L671.9,292.7 L675.7,286.3 L682.0,285.1 L694.7,287.6 L701.0,288.9M640.3,306.6 L649.1,304.1 L658.0,304.1 L661.8,299.0 L665.6,304.1 L661.8,309.1 L665.6,314.2 L671.9,316.7 L679.5,311.6 L687.1,307.8 L697.2,304.1 L702.3,304.1M646.6,334.4 L654.2,329.4 L661.8,326.8 L669.4,331.9 L677.0,333.2 L684.6,330.6 L692.2,326.8 L697.2,325.6M646.6,334.4 L651.6,342.0 L659.2,344.6 L666.8,347.1 L674.4,353.4M651.6,342.0 L654.2,352.2 L649.1,359.7 L656.7,367.3 L663.0,371.1M407.3,206.0 L413.4,202.9 L419.5,201.4 L424.1,196.8 L427.1,190.8 L430.1,186.2 L433.2,181.6 L437.7,178.6 L440.8,175.6 L443.8,171.0 L446.8,168.0M410.4,205.2 L416.5,204.4 L422.5,199.9 L428.6,195.3 L431.6,190.8 L434.7,186.2 L439.2,183.2 L442.3,180.1M425.6,190.8 L430.1,193.8 L433.2,189.2 L436.2,190.8 L437.7,186.2 L440.8,187.7 L442.3,183.2M431.6,196.8 L434.7,193.8 L437.7,196.8 L440.8,192.3 L438.5,187.7 L440.0,193.8 L437.7,199.9 L439.2,206.0 L438.5,211.3M427.1,209.0 L426.3,215.1 L428.6,218.1 L430.1,212.0 L433.2,210.5 L434.7,216.6 L436.2,219.6 L437.7,212.8 L443.8,211.3 L449.9,209.0 L456.0,209.8 L462.0,207.5 L467.3,206.0 L471.1,202.9 L474.9,204.4 L477.2,198.4 L480.3,193.8 L484.8,191.5 L489.4,192.3 L493.2,190.8M459.0,221.9 L460.5,216.6 L462.8,211.3 L466.6,206.0 L469.6,202.9M443.8,180.1 L448.4,177.1 L456.0,175.6 L459.0,178.6 L465.1,181.6 L471.1,183.2 L477.2,183.9 L478.7,187.7 L477.2,193.8M406.6,206.0 L410.4,203.7 L414.9,204.7 L412.7,206.7 L407.3,206.7M430.1,183.2 L432.4,180.1 L435.4,182.4 L433.2,185.4 L430.9,187.7 L428.6,190.0M442.3,145.2 L444.1,144.0 L445.6,145.8 L443.8,147.3 L442.3,145.2M537.7,234.7 L539.7,228.6 L543.8,225.6 L547.8,223.5 L550.9,219.5 L553.9,218.5 L551.9,222.5 L548.9,225.6 L545.8,228.6 L541.8,230.6 L538.7,233.7M539.7,218.5 L541.8,222.5 L540.8,227.6" stroke-width="1"/>
<path d="M408.1,206.0 L414.2,203.2 L420.3,201.1 L424.4,196.8 L427.4,190.8 L430.4,186.2 L433.5,181.6 L438.0,178.6 L441.1,175.6 L444.1,171.0 L446.8,168.0M411.1,204.7 L417.2,203.8 L423.3,199.3 L428.9,195.0 L432.0,190.5 L435.0,185.9 L439.5,182.9 L442.6,179.8M425.6,190.8 L430.1,193.8 L433.2,189.2 L436.2,190.8 L437.7,186.2 L440.8,187.7 L442.3,183.2 L444.6,180.1M431.6,196.8 L434.7,193.8 L437.7,196.8 L440.8,192.3M430.1,183.2 L432.4,180.1 L435.4,182.4 L433.2,185.4 L430.9,187.7 L428.6,190.0 L425.6,193.8 L423.3,196.8M434.7,180.1 L437.0,183.9 L440.0,180.9 L441.5,177.1 L444.6,174.8M471.1,202.9 L474.9,204.4 L477.2,201.4M433.2,211.3 L434.7,216.6 L436.5,219.6" stroke-width="1.8"/>
</g>
<rect x="36.25" y="79" width="680" height="684" fill="none" stroke="#000" stroke-width="2"/>
<line x1="36.25" y1="763" x2="36.25" y2="768.5" stroke="#000" stroke-width="1"/>
<line x1="119.15" y1="763" x2="119.15" y2="768.5" stroke="#000" stroke-width="1"/>
<line x1="202.05" y1="763" x2="202.05" y2="768.5" stroke="#000" stroke-width="1"/>
<line x1="284.95" y1="763" x2="284.95" y2="768.5" stroke="#000" stroke-width="1"/>
<line x1="367.85" y1="763" x2="367.85" y2="768.5" stroke="#000" stroke-width="1"/>
<line x1="450.75" y1="763" x2="450.75" y2="768.5" stroke="#000" stroke-width="1"/>
<line x1="533.65" y1="763" x2="533.65" y2="768.5" stroke="#000" stroke-width="1"/>
<line x1="616.55" y1="763" x2="616.55" y2="768.5" stroke="#000" stroke-width="1"/>
<line x1="699.45" y1="763" x2="699.45" y2="768.5" stroke="#000" stroke-width="1"/>
<line x1="32" y1="96.50" x2="36" y2="96.50" stroke="#000" stroke-width="1"/>
<line x1="32" y1="179.80" x2="36" y2="179.80" stroke="#000" stroke-width="1"/>
<line x1="32" y1="263.10" x2="36" y2="263.10" stroke="#000" stroke-width="1"/>
<line x1="32" y1="346.40" x2="36" y2="346.40" stroke="#000" stroke-width="1"/>
<line x1="32" y1="429.70" x2="36" y2="429.70" stroke="#000" stroke-width="1"/>
<line x1="32" y1="513.00" x2="36" y2="513.00" stroke="#000" stroke-width="1"/>
<line x1="32" y1="596.30" x2="36" y2="596.30" stroke="#000" stroke-width="1"/>
<line x1="32" y1="679.60" x2="36" y2="679.60" stroke="#000" stroke-width="1"/>
<line x1="32" y1="762.90" x2="36" y2="762.90" stroke="#000" stroke-width="1"/>
<g stroke="#000" stroke-width="1" shape-rendering="auto">
<path d="M730.5,156.4 L738,110.8 L745.5,156.4Z" fill="#c30000"/>
<rect x="730.5" y="156.4" width="15.0" height="46.1" fill="#ff3200"/>
<rect x="730.5" y="202.5" width="15.0" height="46.1" fill="#ff6110"/>
<rect x="730.5" y="248.60000000000002" width="15.0" height="46.1" fill="#ffa00f"/>
<rect x="730.5" y="294.70000000000005" width="15.0" height="46.1" fill="#ffbe46"/>
<rect x="730.5" y="340.8" width="15.0" height="46.1" fill="#fff5a5"/>
<rect x="730.5" y="386.9" width="15.0" height="46.1" fill="#a0a0a0"/>
<rect x="730.5" y="433.0" width="15.0" height="46.1" fill="#e1ffff"/>
<rect x="730.5" y="479.1" width="15.0" height="46.1" fill="#b4f0fa"/>
<rect x="730.5" y="525.2" width="15.0" height="46.1" fill="#96d2fa"/>
<rect x="730.5" y="571.3000000000001" width="15.0" height="46.1" fill="#4696f5"/>
<rect x="730.5" y="617.4" width="15.0" height="46.1" fill="#1e64f0"/>
<path d="M730.5,663.5 L738,708.8 L745.5,663.5Z" fill="#0000aa"/>
</g>
</svg>
<svg width="800" height="790" viewBox="0 0 800 790" style="position:absolute;left:0;top:0" font-family="'Liberation Serif',serif" fill="#000">
<text x="172" y="25" textLength="435" lengthAdjust="spacingAndGlyphs" font-size="22" font-weight="bold" word-spacing="12" stroke="#000" stroke-width="0.45">PREVISÃO DE ANOMALIAS DE TEMPERATURA (°C)</text>
<text x="259" y="47.5" textLength="271.5" lengthAdjust="spacingAndGlyphs" font-size="22" font-weight="bold" word-spacing="7" stroke="#000" stroke-width="0.45">ATUALIZACAO − AGOSTO/2025</text>
<text x="259" y="70.5" textLength="271.5" lengthAdjust="spacingAndGlyphs" font-size="22" font-weight="bold" word-spacing="12" stroke="#000" stroke-width="0.45">VALIDO PARA SETEMBRO/2025</text>
<text x="10.0" y="103.1" textLength="17.5" lengthAdjust="spacingAndGlyphs" font-size="20.3" font-weight="normal" >5N</text>
<text x="10.0" y="186.4" textLength="17.5" lengthAdjust="spacingAndGlyphs" font-size="20.3" font-weight="normal" >EQ</text>
<text x="10.0" y="269.70000000000005" textLength="17.5" lengthAdjust="spacingAndGlyphs" font-size="20.3" font-weight="normal" >5S</text>
<text x="2.0" y="353.0" textLength="25.5" lengthAdjust="spacingAndGlyphs" font-size="20.3" font-weight="normal" >10S</text>
<text x="2.0" y="436.3" textLength="25.5" lengthAdjust="spacingAndGlyphs" font-size="20.3" font-weight="normal" >15S</text>
<text x="2.0" y="519.6" textLength="25.5" lengthAdjust="spacingAndGlyphs" font-size="20.3" font-weight="normal" >20S</text>
<text x="2.0" y="602.9" textLength="25.5" lengthAdjust="spacingAndGlyphs" font-size="20.3" font-weight="normal" >25S</text>
<text x="2.0" y="686.2" textLength="25.5" lengthAdjust="spacingAndGlyphs" font-size="20.3" font-weight="normal" >30S</text>
<text x="2.0" y="769.5" textLength="25.5" lengthAdjust="spacingAndGlyphs" font-size="20.3" font-weight="normal" >35S</text>
<text x="22.75" y="787" textLength="27.3" lengthAdjust="spacingAndGlyphs" font-size="20.5" font-weight="normal" >75W</text>
<text x="105.65" y="787" textLength="27.3" lengthAdjust="spacingAndGlyphs" font-size="20.5" font-weight="normal" >70W</text>
<text x="188.55" y="787" textLength="27.3" lengthAdjust="spacingAndGlyphs" font-size="20.5" font-weight="normal" >65W</text>
<text x="271.45000000000005" y="787" textLength="27.3" lengthAdjust="spacingAndGlyphs" font-size="20.5" font-weight="normal" >60W</text>
<text x="354.35" y="787" textLength="27.3" lengthAdjust="spacingAndGlyphs" font-size="20.5" font-weight="normal" >55W</text>
<text x="437.25" y="787" textLength="27.3" lengthAdjust="spacingAndGlyphs" font-size="20.5" font-weight="normal" >50W</text>
<text x="520.1500000000001" y="787" textLength="27.3" lengthAdjust="spacingAndGlyphs" font-size="20.5" font-weight="normal" >45W</text>
<text x="603.0500000000001" y="787" textLength="27.3" lengthAdjust="spacingAndGlyphs" font-size="20.5" font-weight="normal" >40W</text>
<text x="685.95" y="787" textLength="27.3" lengthAdjust="spacingAndGlyphs" font-size="20.5" font-weight="normal" >35W</text>
<text x="750" y="162.70000000000002" textLength="7.2" lengthAdjust="spacingAndGlyphs" font-size="17.5" font-weight="normal" >2</text>
<text x="750" y="208.8" textLength="19.7" lengthAdjust="spacingAndGlyphs" font-size="17.5" font-weight="normal" >1.5</text>
<text x="750" y="254.90000000000003" textLength="7.2" lengthAdjust="spacingAndGlyphs" font-size="17.5" font-weight="normal" >1</text>
<text x="750" y="301.00000000000006" textLength="19.7" lengthAdjust="spacingAndGlyphs" font-size="17.5" font-weight="normal" >0.6</text>
<text x="750" y="347.1" textLength="19.7" lengthAdjust="spacingAndGlyphs" font-size="17.5" font-weight="normal" >0.4</text>
<text x="750" y="393.2" textLength="19.7" lengthAdjust="spacingAndGlyphs" font-size="17.5" font-weight="normal" >0.2</text>
<text x="750" y="439.3" textLength="31" lengthAdjust="spacingAndGlyphs" font-size="17.5" font-weight="normal" >−0.2</text>
<text x="750" y="485.40000000000003" textLength="31" lengthAdjust="spacingAndGlyphs" font-size="17.5" font-weight="normal" >−0.4</text>
<text x="750" y="531.5" textLength="31" lengthAdjust="spacingAndGlyphs" font-size="17.5" font-weight="normal" >−0.6</text>
<text x="750" y="577.6" textLength="19" lengthAdjust="spacingAndGlyphs" font-size="17.5" font-weight="normal" >−1</text>
<text x="750" y="623.6999999999999" textLength="31" lengthAdjust="spacingAndGlyphs" font-size="17.5" font-weight="normal" >−1.5</text>
<text x="750" y="669.8" textLength="19" lengthAdjust="spacingAndGlyphs" font-size="17.5" font-weight="normal" >−2</text>
<text transform="translate(796,355.5) rotate(-90)" text-anchor="middle" textLength="35" lengthAdjust="spacingAndGlyphs" font-size="18">(°C)</text>
</svg>
</div></body></html>
